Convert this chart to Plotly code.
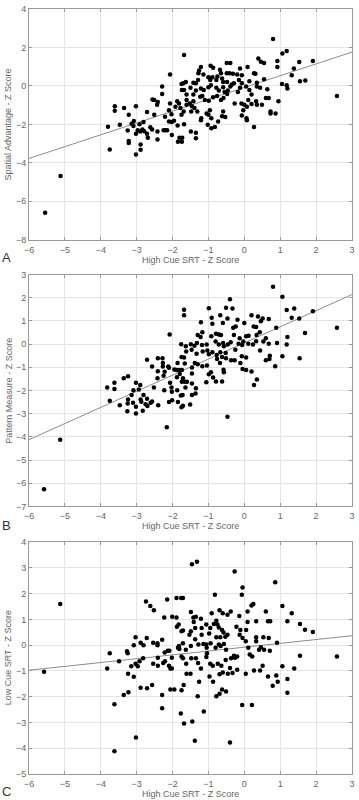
import plotly.graph_objects as go

# ---------------- data ----------------
x_ticks = [-6, -5, -4, -3, -2, -1, 0, 1, 2, 3]
yticks_A = [-8, -6, -4, -2, 0, 2, 4]
yticks_B = [-7, -6, -5, -4, -3, -2, -1, 0, 1, 2, 3]
yticks_C = [-5, -4, -3, -2, -1, 0, 1, 2, 3, 4]

x_title = "High Cue SRT - Z Score"
y_title_A = "Spatial Advantage - Z Score"
y_title_B = "Pattern Measure - Z Score"
y_title_C = "Low Cue SRT - Z Score"
panel_letters = ["A", "B", "C"]

fit_x = [-6, 3]
fit_A = [-3.77, 1.76]
fit_B = [-4.12, 2.14]
fit_C = [-0.97, 0.37]

points_A = [
    (-5.55, -6.6), (-5.12, -4.68), (-3.8, -2.12), (-3.75, -3.3), (-3.61, -1.05), (-3.61, -1.29),
    (-3.35, -1.15), (-3.47, -2.02), (-3.22, -1.5), (-3.25, -2.32), (-3.22, -2.86), (-3.22, -2.97),
    (-3.14, -1.97), (-3.09, -2.08), (-3.08, -1.82), (-3.02, -1.06), (-3.02, -2.48), (-3.02, -3.56),
    (-2.97, -2.3), (-2.92, -1.99), (-2.9, -2.37), (-2.89, -3.04), (-2.89, -3.32), (-2.84, -2.27),
    (-2.81, -1.88), (-2.79, -2.36), (-2.71, -1.36), (-2.69, -2.69), (-2.71, -2.48), (-2.62, -2.15),
    (-2.57, -2.27), (-2.56, -0.7), (-2.51, -1.5), (-2.51, -0.73), (-2.43, -0.98), (-2.41, -0.84),
    (-2.42, -2.37), (-2.42, -2.79), (-2.29, -0.42), (-2.29, -0.03), (-2.25, -2.3), (-2.21, -1.6),
    (-2.2, -2.3), (-2.15, -2.3), (-2.1, -1.26), (-2.1, -1.85), (-2.07, 0.59), (-2.07, -0.91),
    (-2.03, -1.47), (-2.02, -1.87), (-2.02, -2.55), (-1.96, -1.81), (-1.92, -1.08), (-1.87, -0.8),
    (-1.86, -2.06), (-1.85, -2.9), (-1.82, -0.91), (-1.81, -2.69), (-1.78, -1.15), (-1.75, 0.1),
    (-1.74, -0.21), (-1.75, -1.5), (-1.74, -2.9), (-1.73, -2.69), (-1.68, 1.61), (-1.7, 0.14),
    (-1.68, -0.21), (-1.69, -1.33), (-1.68, -1.99), (-1.63, 0.21), (-1.61, -0.45), (-1.61, -0.73),
    (-1.61, -0.98),
    (0.8, 2.44), (1.06, 1.68), (1.18, 1.82), (0.92, 1.29), (0.92, 0.98), (0.39, 1.43), (0.46, 1.26),
    (0.55, 1.19), (0.09, 0.98), (-0.12, 0.91), (-0.49, 1.19), (-0.39, 1.19), (-0.94, 1.05),
    (-0.87, 0.94), (-1.21, 0.98), (-1.26, 0.8), (-1.28, 0.66), (-1.14, 0.59), (-0.68, 0.84),
    (-0.65, 0.66), (-0.49, 0.66), (-0.41, 0.66), (-0.32, 0.63), (-0.2, 0.59), (-0.07, 0.56),
    (0.27, 0.66), (0.31, 0.63), (1.38, 0.91), (1.53, 1.24), (1.91, 1.29), (1.32, 0.56),
    (-0.89, 0.45), (-1.0, 0.45), (-1.42, 0.17), (-1.35, 0.14), (-1.29, 0.31), (-0.95, 0.31),
    (-0.75, 0.49), (-0.78, 0.31), (-0.62, 0.38), (-0.59, 0.21), (-0.48, 0.21), (-0.35, 0.07),
    (-0.29, 0.14), (-0.15, 0.31), (-0.07, 0.14), (0.14, 0.24), (0.35, 0.17), (0.55, 0.35),
    (0.64, -0.17), (1.05, 0.1), (1.18, 0.03), (1.2, -0.14), (1.55, 0.24), (1.7, 0.28),
    (2.58, -0.52), (-1.5, -0.1), (-1.35, -0.24), (-1.21, -0.14), (-1.13, -0.21), (-1.0, -0.07),
    (-0.93, 0.03), (-0.78, -0.1), (-0.71, -0.24), (-0.59, -0.07), (-0.55, -0.31), (-0.46, -0.24),
    (-0.39, -0.03), (-0.18, -0.31), (-0.12, -0.1), (0.05, -0.03), (0.14, -0.21), (0.2, -0.45),
    (0.35, -0.03), (0.44, -0.1), (0.6, -0.63), (0.68, -0.63), (0.95, -0.8), (-1.42, -0.45),
    (-1.23, -0.56), (-1.17, -0.52), (-1.1, -0.73), (-0.99, -0.77), (-0.87, -0.59), (-0.76, -0.52),
    (-0.65, -0.73), (-0.58, -0.63), (-0.48, -0.42), (-0.27, -0.91), (-0.08, -0.91), (0.0, -0.98),
    (0.11, -0.73), (0.2, -0.94), (0.33, -0.8), (0.35, -0.98), (0.49, -0.98), (0.07, -1.08),
    (-0.03, -1.26), (-0.07, -1.54), (0.06, -1.68), (0.07, -1.78), (0.27, -2.13), (0.73, -1.33),
    (0.73, -1.43), (0.87, -1.43), (-1.52, -0.91), (-1.46, -1.05), (-1.48, -1.33), (-1.42, -0.8),
    (-1.39, -1.15), (-1.31, -1.33), (-1.2, -1.68), (-1.21, -1.78), (-1.05, -1.43), (-1.0, -1.5),
    (-0.96, -1.26), (-0.92, -1.68), (-1.02, -2.02), (-0.92, -2.2), (-0.82, -2.13), (-0.73, -1.85),
    (-0.62, -1.57), (-0.53, -1.61), (-0.59, -1.33), (-1.49, -2.37), (-1.35, -2.44), (-1.35, -2.72),
]

points_B = [
    (-5.58, -6.26), (-5.13, -4.13), (-3.82, -1.87), (-3.75, -2.44), (-3.62, -1.67), (-3.62, -1.93),
    (-3.47, -2.64), (-3.36, -1.47), (-3.24, -1.38), (-3.24, -2.39), (-3.25, -2.56), (-3.26, -2.9),
    (-3.14, -2.19), (-3.09, -1.99), (-3.1, -2.53), (-3.02, -1.67), (-3.02, -2.7), (-3.02, -2.99),
    (-2.94, -1.96), (-2.9, -1.76), (-2.89, -2.39), (-2.87, -2.48), (-2.83, -2.87), (-2.81, -2.19),
    (-2.75, -2.59), (-2.71, -2.36), (-2.71, -0.67), (-2.7, -2.67), (-2.61, -2.53), (-2.57, -2.47),
    (-2.57, -0.96), (-2.52, -1.87), (-2.41, -1.17), (-2.41, -0.61), (-2.42, -1.47), (-2.4, -2.64),
    (-2.28, -0.61), (-2.27, -0.81), (-2.27, -0.96), (-2.25, -1.36), (-2.22, -1.19), (-2.23, -1.99),
    (-2.16, -3.59), (-2.12, -0.96), (-2.1, -1.02), (-2.08, 0.42), (-2.07, -1.67), (-2.1, -2.5),
    (-2.03, -1.87), (-2.02, -2.05), (-2.01, -2.42), (-1.95, -1.09), (-1.89, -1.12), (-1.88, -1.43),
    (-1.86, -0.81), (-1.87, -1.99), (-1.85, -2.5), (-1.82, -1.12), (-1.8, -1.29), (-1.77, -2.22),
    (-1.76, 0.0), (-1.75, -0.55), (-1.75, -2.72), (-1.71, -2.66), (-1.74, -1.12), (-1.71, -1.47),
    (-1.74, -1.62), (-1.68, 1.48), (-1.68, 1.25), (-1.68, -0.58), (-1.66, -0.84), (-1.66, -1.62),
    (-1.63, -0.09), (-1.62, -0.32), (-1.6, -1.62),
    (0.8, 2.48), (1.06, 2.05), (-0.4, 1.94), (-0.99, 1.55), (-0.51, 1.57), (-0.33, 1.54),
    (1.18, 1.47), (1.39, 1.54), (1.91, 1.42), (-0.67, 1.25), (-0.91, 1.14), (-0.47, 1.11),
    (0.2, 1.25), (0.38, 1.19), (0.51, 1.11), (0.68, 1.08), (1.32, 1.14), (1.53, 1.11),
    (-1.21, 0.94), (-0.89, 0.88), (-0.6, 0.91), (-0.19, 1.05), (0.0, 0.91), (0.46, 0.99),
    (0.26, 0.76), (0.33, 0.74), (-0.24, 0.76), (-0.31, 0.71), (0.89, 0.71), (-1.17, 0.51),
    (-1.3, 0.39), (-1.22, 0.31), (-0.92, 0.34), (-0.79, 0.45), (-0.71, 0.42), (-0.65, 0.39),
    (-0.29, 0.39), (-0.13, 0.25), (0.05, 0.34), (0.12, 0.36), (0.34, 0.39), (0.43, 0.51),
    (0.6, 0.25), (0.53, 0.11), (1.69, 0.48), (1.2, 0.31), (-1.49, 0.0), (-1.39, -0.07),
    (-1.47, -0.24), (-1.32, 0.05), (-1.18, -0.04), (-1.05, -0.01), (-0.8, 0.11), (-0.71, -0.01),
    (-0.59, 0.05), (-0.57, -0.09), (-0.46, -0.01), (-0.38, 0.08), (-0.25, -0.24), (-0.16, 0.02),
    (-0.06, -0.04), (-0.03, 0.11), (0.11, 0.02), (0.24, -0.01), (0.33, 0.13), (0.44, -0.27),
    (0.68, 0.02), (0.91, 0.05), (1.18, -0.01), (0.71, -0.5), (0.7, -0.64), (0.6, -0.7),
    (1.06, -0.52), (1.54, -0.61), (0.86, -0.95), (2.58, 0.71), (-1.33, -0.41), (-1.16, -0.32),
    (-1.03, -0.27), (-0.99, -0.44), (-0.89, -0.35), (-0.77, -0.47), (-0.76, -0.64), (-0.67, -0.35),
    (-0.68, -0.81), (-0.62, -0.55), (-0.52, -0.38), (-0.51, -0.61), (-0.37, -0.7), (-0.27, -0.7),
    (-0.07, -0.52), (0.05, -0.58), (-0.11, -0.81), (-0.05, -1.07), (0.05, -1.12), (0.2, -1.18),
    (0.35, -1.52), (0.27, -1.76), (-1.38, -0.81), (-1.3, -0.87), (-1.17, -0.95), (-1.04, -0.92),
    (-0.99, -1.3), (-0.93, -1.21), (-1.06, -1.64), (-0.87, -1.44), (-0.79, -1.61), (-0.62, -1.61),
    (-0.58, -1.1), (-0.57, -1.21), (-1.46, -1.01), (-1.46, -1.27), (-1.46, -1.7), (-1.35, -1.9),
    (-1.36, -2.13), (-1.46, -2.19), (-1.51, -2.6), (-0.47, -3.13), (-1.64, -1.87), (-1.72, -2.19),
]

points_C = [
    (-5.58, -1.03), (-5.13, 1.6), (-3.82, -0.9), (-3.75, -0.31), (-3.62, -2.29), (-3.62, -4.12),
    (-3.49, -0.62), (-3.36, -1.93), (-3.27, -0.23), (-3.25, -0.31), (-3.24, -1.11), (-3.23, -1.83),
    (-3.15, -0.82), (-3.08, 0.0), (-3.08, -1.22), (-3.03, 0.31), (-3.03, -0.72), (-3.02, -3.58),
    (-2.97, -0.82), (-2.92, -0.62), (-2.89, 0.1), (-2.89, -1.65), (-2.81, 0.0), (-2.82, -0.51),
    (-2.74, 1.7), (-2.72, 0.28), (-2.71, -1.67), (-2.62, 1.52), (-2.57, -1.54), (-2.54, 0.1),
    (-2.54, -0.72), (-2.52, 1.36), (-2.42, 0.08), (-2.42, 0.0), (-2.41, -0.49), (-2.41, -0.8),
    (-2.29, 0.21), (-2.29, -1.93), (-2.29, -2.45), (-2.23, 1.08), (-2.26, -0.69), (-2.22, -0.28),
    (-2.21, -0.62), (-2.15, 1.78), (-2.13, -0.21), (-2.09, -0.21), (-2.1, -0.8), (-2.06, -0.9),
    (-2.06, -1.72), (-2.01, 1.11), (-2.02, -0.49), (-2.02, -0.9), (-1.95, -1.72), (-1.89, 1.83),
    (-1.88, 0.72), (-1.89, 1.08), (-1.83, 0.8), (-1.85, -0.1), (-1.82, -0.03), (-1.81, -0.15),
    (-1.76, 1.83), (-1.75, 0.54), (-1.75, -0.44), (-1.75, -1.75), (-1.77, -2.65), (-1.71, 1.83),
    (-1.71, 0.57), (-1.71, 0.08), (-1.71, -0.51), (-1.69, -1.54), (-1.68, -3.04), (-1.63, -0.18),
    (-1.62, -0.72), (-1.61, -1.11),
    (-1.46, 3.14), (-1.32, 3.24), (-0.27, 2.86), (0.86, 2.45), (-0.05, 2.24), (-0.07, 1.96),
    (-0.82, 1.96), (1.06, 1.52), (0.25, 1.6), (0.2, 1.54), (1.32, 1.24), (-1.49, 1.29),
    (-1.42, 1.08), (-1.35, 1.11), (-0.91, 1.24), (-0.6, 1.24), (-0.47, 1.18), (-0.38, 1.31),
    (-0.69, 1.36), (0.09, 1.31), (-0.14, 1.13), (0.6, 1.31), (-1.21, 1.03), (-0.78, 0.95),
    (-0.75, 0.8), (-0.71, 0.69), (-0.62, 0.59), (-0.95, 0.67), (-1.19, 0.67), (-1.37, 0.67),
    (-1.41, 0.9), (-1.49, 0.54), (-1.06, 0.8), (-0.85, 0.82), (-0.22, 0.72), (-0.11, 0.59),
    (0.05, 0.59), (0.09, 0.9), (0.33, 0.93), (0.66, 0.93), (0.72, 0.93), (1.2, 0.93),
    (1.55, 0.82), (1.69, 0.6), (1.91, 0.51), (-1.53, 0.41), (-1.37, 0.23), (-1.19, 0.41),
    (-0.98, 0.46), (-0.78, 0.31), (-0.67, 0.31), (-0.58, 0.49), (-0.53, 0.33), (-0.47, 0.41),
    (-0.13, 0.41), (-0.05, 0.28), (0.04, 0.15), (0.33, 0.31), (0.33, 0.15), (0.53, 0.31),
    (0.68, 0.28), (0.91, 0.1), (-1.49, -0.03), (-1.28, 0.03), (-1.14, 0.05), (-1.06, 0.03),
    (-1.05, -0.1), (-0.94, 0.08), (-0.8, -0.1), (-0.71, 0.03), (-0.66, -0.03), (-0.57, 0.05),
    (-0.51, -0.18), (-0.29, -0.41), (-0.37, -0.51), (-0.26, -0.49), (-0.2, -0.44), (0.11, -0.1),
    (0.15, -0.36), (0.22, -0.44), (0.41, -0.18), (0.46, -0.08), (0.55, -0.18), (0.71, -0.21),
    (1.55, -0.41), (2.58, -0.44), (-1.48, -0.51), (-1.35, -0.51), (-1.29, -0.69), (-1.21, -0.9),
    (-1.04, -0.31), (-1.06, -0.46), (-0.95, -0.72), (-0.88, -0.8), (-0.74, -0.72), (-0.64, -0.8),
    (-0.6, -1.06), (-0.69, -1.13), (-0.52, -0.57), (-0.4, -0.88), (-0.46, -1.11), (-0.33, -1.08),
    (-0.2, -0.95), (0.04, -1.11), (0.27, -0.98), (0.44, -0.98), (0.51, -0.8), (0.66, -1.21),
    (0.89, -1.18), (0.93, -1.42), (0.79, -1.57), (1.06, -0.82), (1.2, -1.31), (1.39, -0.9),
    (1.2, -1.85), (-0.97, -1.21), (-0.87, -1.42), (-1.26, -1.42), (-1.5, -1.11), (-1.3, -1.98),
    (-1.13, -2.57), (-0.78, -1.98), (-0.69, -1.88), (-0.62, -1.72), (-0.51, -1.8), (-1.45, -2.96),
    (-0.06, -2.32), (0.21, -2.32), (-1.38, -3.71), (-0.4, -3.78),
]

# ---------------- figure ----------------
W, H = 359, 800
ML, MR, MT, MB = 29, 4, 5, 26
plot_h = H - MT - MB
plot_w = W - ML - MR


def py(pix):
    return (H - MB - pix) / plot_h


def px(pix):
    return (pix - ML) / plot_w


panels = [
    (points_A, fit_A, yticks_A, [-8, 4], y_title_A, (5, 237), 257, 255),
    (points_B, fit_B, yticks_B, [-7, 3], y_title_B, (272, 505), 525, 524),
    (points_C, fit_C, yticks_C, [-5, 4], y_title_C, (541, 774), 794, 792),
]

fig = go.Figure()
grey_txt = "#666666"
FONT = "Liberation Sans, Arial, sans-serif"
annotations = []
for i, (pts, fit, yt, yr, ytitle, (top, bot), xt_pix, letter_pix) in enumerate(panels):
    n = "" if i == 0 else str(i + 1)
    xs = [p[0] for p in pts]
    ys = [p[1] for p in pts]
    fig.add_trace(go.Scatter(x=fit_x, y=fit, mode="lines",
                             line=dict(color="#8c8c8c", width=1),
                             xaxis="x" + n, yaxis="y" + n, showlegend=False, hoverinfo="skip"))
    fig.add_trace(go.Scatter(x=xs, y=ys, mode="markers",
                             marker=dict(color="black", size=4.5, symbol="circle"),
                             xaxis="x" + n, yaxis="y" + n, showlegend=False))
    axis_common = dict(showgrid=True, gridcolor="#e4e4e4", gridwidth=1, zeroline=False,
                       showline=True, linecolor="#9a9a9a", linewidth=1, mirror="ticks",
                       ticks="inside", ticklen=3, tickcolor="#9a9a9a",
                       tickfont=dict(family=FONT, size=9, color=grey_txt))
    fig.layout["xaxis" + n] = dict(domain=[0, 1], range=[-6, 3], tickvals=x_ticks,
                                   anchor="y" + n, ticklabelstandoff=1, **axis_common)
    fig.layout["yaxis" + n] = dict(domain=[py(bot), py(top)], range=yr, tickvals=yt,
                                   anchor="x" + n, **axis_common)
    mid = (top + bot) / 2
    annotations.append(dict(text=ytitle, x=px(8), y=py(mid), xref="paper", yref="paper",
                            textangle=-90, showarrow=False, xanchor="center", yanchor="middle",
                            font=dict(family=FONT, size=9, color=grey_txt)))
    annotations.append(dict(text=x_title, x=px(192), y=py(xt_pix), xref="paper", yref="paper",
                            showarrow=False, xanchor="center", yanchor="middle",
                            font=dict(family=FONT, size=9, color=grey_txt)))
    annotations.append(dict(text=panel_letters[i], x=px(6), y=py(letter_pix), xref="paper",
                            yref="paper", showarrow=False, xanchor="center", yanchor="middle",
                            font=dict(family=FONT, size=13, color="#333333")))

fig.update_layout(width=W, height=H, margin=dict(l=ML, r=MR, t=MT, b=MB),
                  paper_bgcolor="white", plot_bgcolor="white",
                  annotations=annotations)

fig.write_html("out.html", config={"displayModeBar": False},
               post_script="document.body.style.margin='0';document.body.style.overflow='hidden';")
